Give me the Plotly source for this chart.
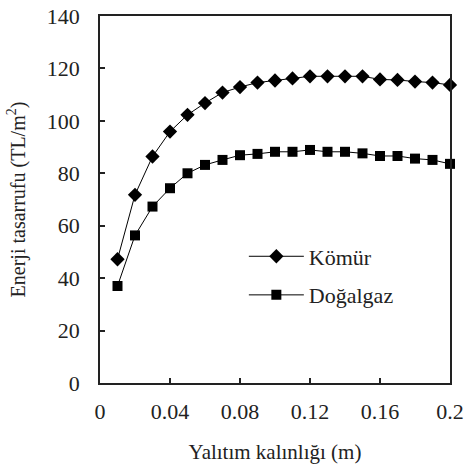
import plotly.graph_objects as go

thickness = [0.01, 0.02, 0.03, 0.04, 0.05, 0.06, 0.07, 0.08, 0.09, 0.10,
             0.11, 0.12, 0.13, 0.14, 0.15, 0.16, 0.17, 0.18, 0.19, 0.20]
komur = [47.2, 71.8, 86.4, 95.9, 102.3, 106.8, 110.8, 112.9, 114.6, 115.4,
         116.2, 117.0, 117.0, 117.0, 117.0, 115.8, 115.6, 115.0, 114.6, 113.7]
dogalgaz = [37.0, 56.3, 67.3, 74.3, 80.0, 83.2, 85.1, 86.9, 87.4, 88.2,
            88.2, 88.9, 88.2, 88.2, 87.6, 86.6, 86.6, 85.6, 85.1, 83.6]
x_ticks = [0, 0.04, 0.08, 0.12, 0.16, 0.2]
x_tick_labels = ["0", "0.04", "0.08", "0.12", "0.16", "0.2"]
y_ticks = [0, 20, 40, 60, 80, 100, 120, 140]

FONT = "Liberation Serif"

fig = go.Figure()
fig.add_trace(go.Scatter(
    x=thickness, y=komur, name="Kömür", mode="lines+markers",
    line=dict(color="black", width=1),
    marker=dict(symbol="diamond", size=11, color="black"),
    cliponaxis=False, legendgroup="a"))
fig.add_trace(go.Scatter(
    x=thickness, y=dogalgaz, name="Doğalgaz", mode="lines+markers",
    line=dict(color="black", width=1),
    marker=dict(symbol="square", size=10, color="black"),
    cliponaxis=False, legendgroup="b"))

axis_common = dict(showline=True, linecolor="#222", linewidth=1.5, mirror=True,
                   ticks="inside", ticklen=5, tickcolor="#222", tickwidth=1.5,
                   showgrid=False, zeroline=False, automargin=False,
                   ticklabeloverflow="allow",
                   tickfont=dict(family=FONT, size=22, color="#222"))

fig.update_layout(
    width=464, height=472,
    margin=dict(l=100, r=14, t=16, b=89),
    paper_bgcolor="white", plot_bgcolor="white",
    font=dict(family=FONT, size=20, color="#222"),
    xaxis=dict(range=[0, 0.2], tickvals=x_ticks, ticktext=x_tick_labels,
               ticklabelstandoff=8,
               title=dict(text="Yalıtım kalınlığı (m)", font=dict(family=FONT, size=21), standoff=21),
               **axis_common),
    yaxis=dict(range=[0, 140], tickvals=y_ticks, ticklabelstandoff=14,
               title=dict(text="Enerji tasarrufu (TL/m<sup>2</sup>)", font=dict(family=FONT, size=20), standoff=16),
               **axis_common),
    legend=dict(x=0.411, y=0.402, xanchor="left", yanchor="top",
                bgcolor="rgba(0,0,0,0)", font=dict(family=FONT, size=22),
                traceorder="grouped", tracegroupgap=7, itemwidth=55),
    showlegend=True,
)

fig.write_html("out.html",
               config={"displayModeBar": False},
               post_script="document.body.style.margin='0';document.body.style.overflow='hidden';")
